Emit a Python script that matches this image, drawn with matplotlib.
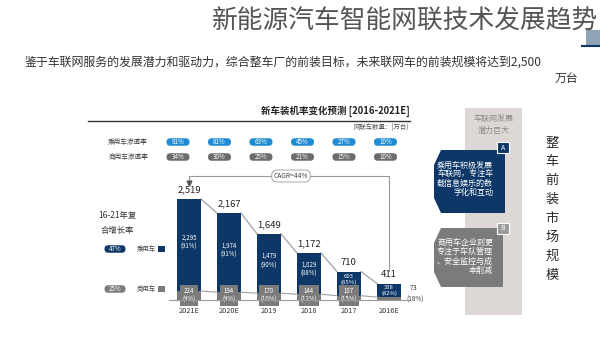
import numpy as np
import matplotlib
matplotlib.use("Agg")
import matplotlib.pyplot as plt
from matplotlib.patches import FancyBboxPatch, Polygon, Rectangle

plt.rcParams['font.family'] = ['Noto Sans CJK SC', 'DejaVu Sans']

# ---------------- data (chronological) ----------------
years = ['2016E', '2017', '2018', '2019', '2020E', '2021E']
passenger = [338, 603, 1029, 1479, 1974, 2295]
commercial = [73, 107, 144, 170, 194, 224]
totals = ['411', '710', '1,172', '1,649', '2,167', '2,519']
total_vals = [411, 710, 1172, 1649, 2167, 2519]
passenger_labels = ['338', '603', '1,029', '1,479', '1,974', '2,295']
passenger_share = ['(82%)', '(85%)', '(88%)', '(90%)', '(91%)', '(91%)']
commercial_share = ['(18%)', '(15%)', '(12%)', '(10%)', '(9%)', '(9%)']
passenger_pen = ['10%', '27%', '45%', '63%', '81%', '91%']
commercial_pen = ['10%', '15%', '21%', '25%', '30%', '34%']
cagr_total = 'CAGR=44%'
cagr_passenger = '47%'
cagr_commercial = '25%'

NAVY = '#0c3767'
BLUE = '#1f8bd3'
GREY = '#7b7b7b'
TXT = '#333333'

fig = plt.figure(figsize=(6, 3.37), dpi=100)
ov = fig.add_axes([0, 0, 1, 1], zorder=0)
ov.set_xlim(0, 600)
ov.set_ylim(337, 0)
ov.axis('off')

# ---------------- headings ----------------
ov.add_patch(Rectangle((586, 30), 14, 15, fc='#8fa3b7', ec='none', zorder=0))
ov.plot([582, 600], [46, 46], color=NAVY, lw=1.5)
ov.text(598, 21, '新能源汽车智能网联技术发展趋势', fontsize=18.5, color='#555555',
        ha='right', va='center', fontweight='light', zorder=2)
ov.text(25, 62, '鉴于车联网服务的发展潜力和驱动力，综合整车厂的前装目标，未来联网车的前装规模将达到2,500',
        fontsize=8.6, color=TXT, ha='left', va='center')
ov.text(578, 78, '万台', fontsize=8.6, color=TXT, ha='right', va='center')

# chart title
ov.text(410, 111, '新车装机率变化预测 [2016-2021E]', fontsize=6.8, color='#222222',
        ha='right', va='center', fontweight='bold')
ov.plot([88, 410], [121, 121], color='#333333', lw=1)
ov.text(409, 128, '网联车数量：(万台)', fontsize=4.6, color='#555555', ha='right', va='center')


def pill(x, y, w, h, color, text, fs=4.5):
    ov.add_patch(FancyBboxPatch((x - w / 2, y - h / 2), w, h,
                                boxstyle=f"round,pad=0,rounding_size={h / 2}",
                                fc=color, ec='none'))
    ov.text(x, y, text, fontsize=fs, color='white', ha='center', va='center')


# penetration rows (mirrored order: 2021E at left)
ov.text(128, 142, '乘用车渗透率', fontsize=4.8, color='#444444', ha='center', va='center')
ov.text(128, 157, '商用车渗透率', fontsize=4.8, color='#444444', ha='center', va='center')
for k in range(6):
    i = 5 - k
    xc = 178 + 41.5 * k
    pill(xc, 142, 23, 7.5, BLUE, passenger_pen[i])
    pill(xc, 157, 23, 7.5, '#6c6c6c', commercial_pen[i])

# left legend
ov.text(117, 215, '16-21年复', fontsize=6, color=TXT, ha='center', va='center')
ov.text(117, 230, '合增长率', fontsize=6, color=TXT, ha='center', va='center')
pill(115, 249, 21, 7.5, NAVY, cagr_passenger)
ov.text(146, 249, '乘用车', fontsize=4.6, color='#444444', ha='center', va='center')
ov.add_patch(Rectangle((158, 246), 7, 6, fc=NAVY, ec='none'))
pill(115, 289, 21, 7.5, GREY, cagr_commercial)
ov.text(146, 289, '商用车', fontsize=4.6, color='#444444', ha='center', va='center')
ov.add_patch(Rectangle((158, 286), 7, 6, fc=GREY, ec='none'))

# ---------------- bar chart ----------------
ax = fig.add_axes([169 / 600, 37 / 337, 240 / 600, 130 / 337], zorder=1)
ax.patch.set_alpha(0)
px_per_unit = 0.0401
ax.set_xlim(5.5, -0.5)
ax.set_ylim(0, 130 / px_per_unit)
pos = np.arange(len(years))
w = 0.6
ax.bar(pos, commercial, width=w, color=GREY, zorder=2)
ax.bar(pos, passenger, width=w, bottom=commercial, color=NAVY, zorder=2)
for s in ['top', 'right', 'left']:
    ax.spines[s].set_visible(False)
ax.spines['bottom'].set_color('#9a9a9a')
ax.spines['bottom'].set_zorder(4)
ax.set_yticks([])
ax.set_xticks(pos)
ax.set_xticklabels(years, fontsize=5.3, color='#333333')
ax.tick_params(axis='x', length=0, pad=5)

# connecting lines between tops
for i in range(len(years) - 1):
    ax.plot([i + 1 - w / 2, i + w / 2], [total_vals[i + 1], total_vals[i]],
            color='#a0a0a0', lw=0.9, zorder=1)
    ax.plot([i + 1 - w / 2, i + w / 2], [commercial[i + 1], commercial[i]],
            color='#a0a0a0', lw=0.8, zorder=3)

for i in range(len(years)):
    ax.annotate(totals[i], (pos[i], total_vals[i]), xytext=(0, 3.5),
                textcoords='offset points', ha='center', va='bottom',
                fontsize=6.8, color='#222222')
    mid = commercial[i] + passenger[i] / 2
    if i == 0:
        ax.annotate(passenger_labels[i] + '\n' + passenger_share[i], (pos[i], total_vals[i]),
                    xytext=(0, -1), textcoords='offset points', ha='center', va='top',
                    fontsize=4.2, color='white', linespacing=1.1, zorder=5)
        ax.annotate(str(commercial[i]), (pos[i] - w / 2, total_vals[i]), xytext=(6, -3),
                    textcoords='offset points', ha='left', va='center',
                    fontsize=5, color='#333333')
        ax.annotate(commercial_share[i], (pos[i] - w / 2, 0), xytext=(4, 0),
                    textcoords='offset points', ha='left', va='center',
                    fontsize=4.6, color='#333333')
    elif i == 1:
        ax.annotate(passenger_labels[i] + '\n' + passenger_share[i], (pos[i], total_vals[i]),
                    xytext=(0, -1.5), textcoords='offset points', ha='center', va='top',
                    fontsize=4.3, color='white', linespacing=1.1, zorder=5)
        ax.annotate(str(commercial[i]) + '\n' + commercial_share[i], (pos[i], 0),
                    xytext=(0, 3.5), textcoords='offset points', ha='center', va='center',
                    fontsize=4.4, color='white', linespacing=1.15, zorder=3,
                    bbox=dict(boxstyle='square,pad=0.35', fc=GREY, ec='none'))
    else:
        off = 3 if i == 2 else 2
        ax.annotate(passenger_labels[i] + '\n' + passenger_share[i], (pos[i], mid),
                    xytext=(0, off), textcoords='offset points',
                    ha='center', va='center', fontsize=4.4, color='white',
                    linespacing=1.2, zorder=5)
        ax.annotate(str(commercial[i]) + '\n' + commercial_share[i], (pos[i], 0),
                    xytext=(0, 3.5), textcoords='offset points', ha='center', va='center',
                    fontsize=4.4, color='white', linespacing=1.15, zorder=3,
                    bbox=dict(boxstyle='square,pad=0.35', fc=GREY, ec='none'))

# CAGR bracket
top_y = (300 - 176) / px_per_unit
ax.plot([5, 5, 0, 0], [(300 - 184) / px_per_unit, top_y, top_y, (300 - 271) / px_per_unit],
        color='#9a9a9a', lw=0.8, clip_on=False, zorder=1)
ax.plot([5], [(300 - 183) / px_per_unit], marker='v', color='#555555', ms=3.5,
        clip_on=False, zorder=2)
ax.text(2.45, top_y, cagr_total, fontsize=4.8, color='#444444', ha='center', va='center',
        bbox=dict(boxstyle='round,pad=0.3,rounding_size=0.8', fc='white', ec='#999999', lw=0.6),
        zorder=3)

# ---------------- right panel ----------------
ov.add_patch(Rectangle((465, 108), 57, 207, fc='#ddd8d6', ec='none', zorder=1))
ov.text(494, 118, '车联网发展', fontsize=5.8, color='#8a8a8a', ha='center', va='center', zorder=2)
ov.text(494, 130, '潜力巨大', fontsize=5.8, color='#8a8a8a', ha='center', va='center', zorder=2)

ov.add_patch(Polygon([(441, 150), (505, 150), (505, 213), (441, 213), (434, 198), (434, 165)],
                     closed=True, fc=NAVY, ec='none', zorder=2))
for j, line in enumerate(['乘用车积极发展', '车联网，专注车', '载信息娱乐的数', '字化和互动']):
    ov.text(493, 165 + j * 9, line, fontsize=5.8, color='white', ha='right', va='center', zorder=3)
ov.add_patch(Rectangle((497, 142), 12, 11, fc=NAVY, ec='white', lw=0.8, zorder=3))
ov.text(503, 147.5, 'A', fontsize=5, color='white', ha='center', va='center', zorder=4)

ov.add_patch(Polygon([(441, 228), (503, 228), (503, 287), (441, 287), (434, 272), (434, 243)],
                     closed=True, fc=GREY, ec='none', zorder=2))
for j, line in enumerate(['商用车企业则更', '专注于车队管理', '、安全监控与成', '本削减']):
    ov.text(493, 242 + j * 9.5, line, fontsize=5.8, color='white', ha='right', va='center', zorder=3)
ov.add_patch(Rectangle((497, 223), 12, 11, fc='#9a9a9a', ec='white', lw=0.8, zorder=3))
ov.text(503, 228.5, 'B', fontsize=5, color='white', ha='center', va='center', zorder=4)

for j, ch in enumerate('整车前装市场规模'):
    ov.text(552, 143 + j * 18.9, ch, fontsize=9.5, color='#2a2a2a', ha='center', va='center',
            fontweight='medium')

fig.savefig('out.png', dpi=100)
